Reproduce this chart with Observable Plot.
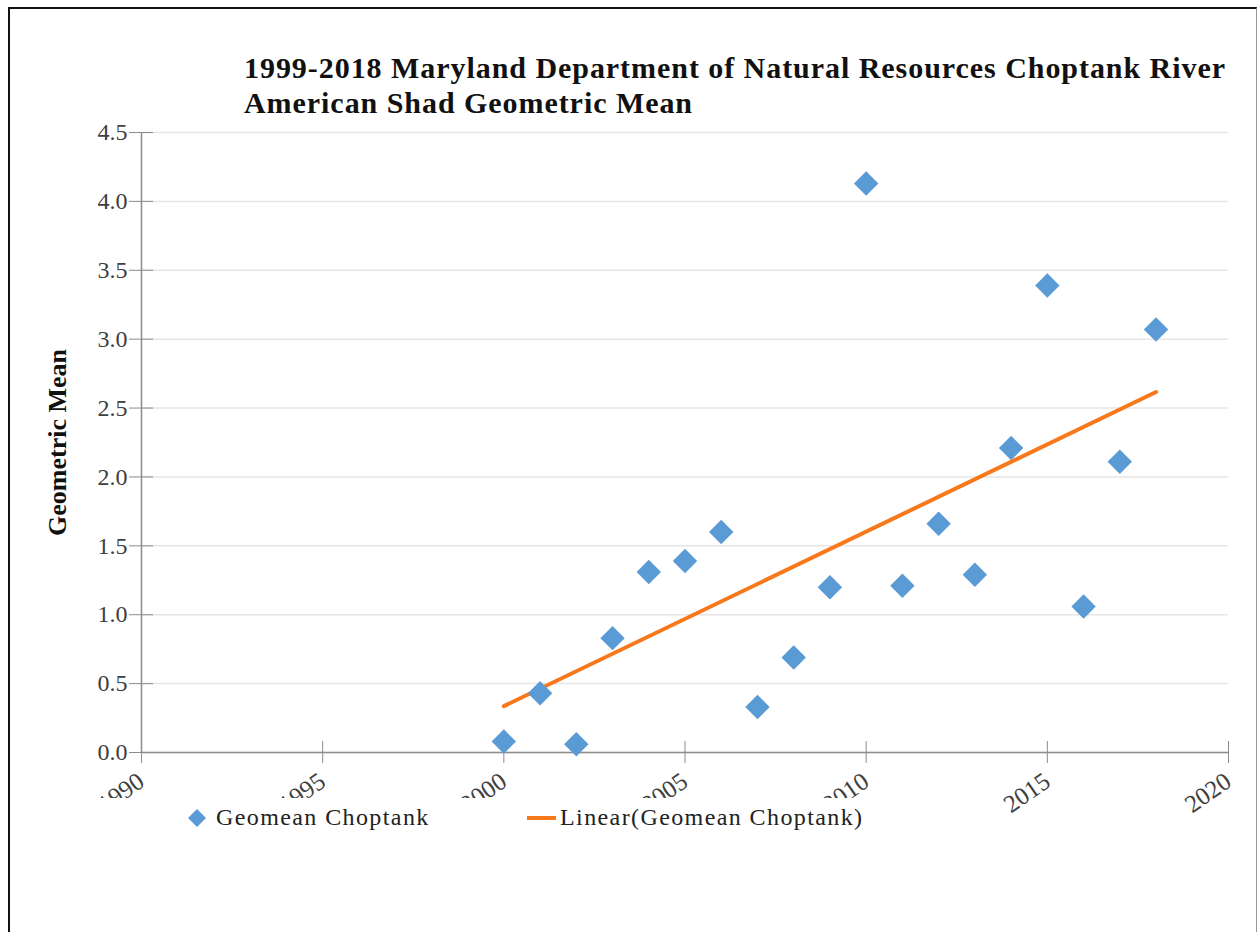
<!DOCTYPE html>
<html>
<head>
<meta charset="utf-8">
<script src="https://cdn.jsdelivr.net/npm/d3@7"></script>
<script src="https://cdn.jsdelivr.net/npm/@observablehq/plot@0.6"></script>
<style>
  html, body { margin: 0; padding: 0; background: #fff; }
  #wrap { position: relative; width: 1257px; height: 932px; overflow: hidden; font-family: "Liberation Serif", "Times New Roman", serif; }
  #frame { position: absolute; left: 8px; top: 7px; width: 1246px; height: 960px; border-top: 2px solid #111; border-left: 2px solid #111; border-right: 1px solid #999; }
  #title { position: absolute; left: 244px; top: 50px; font-weight: bold; font-size: 30px; line-height: 35px; color: #111; letter-spacing: 0.95px; white-space: nowrap; }
  #chart { position: absolute; left: 0; top: 0; }
  #legend { position: absolute; left: 95px; top: 798px; width: 780px; height: 44px; background: #fff; font-size: 24px; color: #222; letter-spacing: 1.4px; }
  .lg { position: absolute; top: 4px; white-space: nowrap; line-height: 30px; }
</style>
</head>
<body>
<div id="wrap">
  <div id="frame"></div>
  <div id="chart"></div>
  <div id="title">1999-2018 Maryland Department of Natural Resources Choptank River<br>American Shad Geometric Mean</div>
  <div id="legend"></div>
</div>
<script>
// ---- data ----
const years = [2000, 2001, 2002, 2003, 2004, 2005, 2006, 2007, 2008, 2009, 2010, 2011, 2012, 2013, 2014, 2015, 2016, 2017, 2018];
const geomean = [0.08, 0.43, 0.06, 0.83, 1.31, 1.39, 1.60, 0.33, 0.69, 1.20, 4.13, 1.21, 1.66, 1.29, 2.21, 3.39, 1.06, 2.11, 3.07];
const xTicks = [1990, 1995, 2000, 2005, 2010, 2015, 2020];
const yTicks = [0, 0.5, 1.0, 1.5, 2.0, 2.5, 3.0, 3.5, 4.0, 4.5];
const seriesName = "Geomean Choptank";
const trendName = "Linear(Geomean Choptank)";
const yLabel = "Geometric Mean";

const blue = "#5B9BD5";
const orange = "#F7791C";
const axisGray = "#8c8c8c";

const rows = years.map((y, i) => ({year: y, value: geomean[i]}));

const chart = Plot.plot({
  width: 1257,
  height: 932,
  marginLeft: 141,
  marginRight: 29,
  marginTop: 132,
  marginBottom: 180,
  style: {fontFamily: "'Liberation Serif', 'Times New Roman', serif", fontSize: "24px", color: "#404040", background: "transparent"},
  x: {domain: [1990, 2020]},
  y: {domain: [0, 4.5]},
  marks: [
    Plot.gridY(yTicks, {stroke: "#e6e6e6", strokeOpacity: 1, strokeWidth: 1.5}),
    Plot.ruleY([0], {stroke: axisGray, strokeWidth: 1.5}),
    Plot.ruleX([1990], {stroke: axisGray, strokeWidth: 1.5}),
    Plot.axisY(yTicks, {tickSize: 12, tickPadding: 2, stroke: axisGray, fill: "#404040", tickFormat: d3.format(".1f"), label: null}),
    Plot.axisY(yTicks, {tickSize: 12, dx: 12, stroke: axisGray, tickFormat: () => "", label: null}),
    Plot.axisX(xTicks, {tickSize: 11, tickPadding: 15, tickRotate: -35, stroke: axisGray, fill: "#404040", fontSize: 25, tickFormat: d => String(d), label: null, letterSpacing: 0.5}),
    Plot.axisX(xTicks, {tickSize: 11, dy: -11, stroke: axisGray, tickFormat: () => "", label: null}),
    Plot.text([yLabel], {frameAnchor: "left", textAnchor: "middle", dx: -84, rotate: -90, fontWeight: "bold", fontSize: 26, fill: "#111", letterSpacing: 0.9}),
    Plot.linearRegressionY(rows, {x: "year", y: "value", stroke: orange, strokeWidth: 4, ci: 0}),
    Plot.dot(rows, {x: "year", y: "value", symbol: "diamond2", r: 11, fill: blue, stroke: "none"})
  ]
});
document.getElementById("chart").appendChild(chart);

// legend
const lg = document.getElementById("legend");
lg.innerHTML = `
  <svg style="position:absolute;left:${197-95-11}px;top:${818-798-11}px" width="22" height="22"><path d="M11,2 L20,11 L11,20 L2,11Z" fill="${blue}"/></svg>
  <div class="lg" style="left:${216-95}px">${seriesName}</div>
  <svg style="position:absolute;left:${527-95}px;top:${818-798-2}px" width="29" height="4"><rect width="29" height="4" fill="${orange}"/></svg>
  <div class="lg" style="left:${560-95}px">${trendName}</div>`;
</script>
</body>
</html>
